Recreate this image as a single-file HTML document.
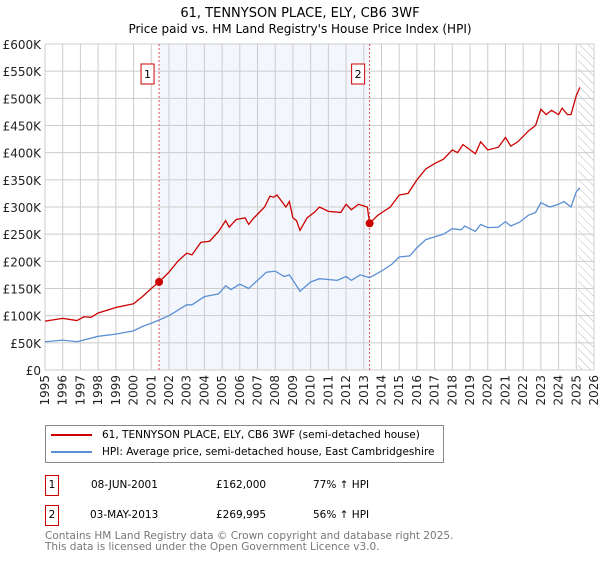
<!DOCTYPE html>
<html><head><meta charset="utf-8"><style>
body{margin:0;background:#fff;font-family:"Liberation Sans","DejaVu Sans",sans-serif;}
svg text{font-family:"DejaVu Sans","Liberation Sans",sans-serif;}
</style></head><body>
<svg id="c" width="600" height="560" xmlns="http://www.w3.org/2000/svg"></svg>
<script>
const yearTicks=[1995,1996,1997,1998,1999,2000,2001,2002,2003,2004,2005,2006,2007,2008,2009,2010,2011,2012,2013,2014,2015,2016,2017,2018,2019,2020,2021,2022,2023,2024,2025,2026];
const priceTicks=[0,50,100,150,200,250,300,350,400,450,500,550,600];
const redT=[1995,1996,1996.8,1997.2,1997.6,1998,1999,2000,2000.5,2001,2001.44,2002,2002.5,2003,2003.3,2003.8,2004.3,2004.8,2005.2,2005.4,2005.8,2006.3,2006.5,2006.8,2007.4,2007.7,2007.9,2008.1,2008.6,2008.8,2009,2009.2,2009.4,2009.8,2010.2,2010.5,2011,2011.7,2012,2012.3,2012.7,2013.2,2013.33,2013.8,2014.5,2015,2015.5,2016,2016.5,2017,2017.5,2018,2018.3,2018.6,2019.3,2019.6,2020,2020.6,2021,2021.3,2021.7,2022.3,2022.7,2023,2023.3,2023.6,2024,2024.2,2024.5,2024.7,2025,2025.2];
const redV=[90,95,91,98,97,105,115,122,135,150,162,180,200,215,212,235,237,255,275,263,277,280,268,280,300,320,318,322,300,310,280,275,257,280,290,300,292,290,305,295,305,300,270,285,300,322,325,350,370,380,388,405,400,415,398,420,405,410,428,412,420,440,450,480,470,478,470,482,470,470,505,520];
const blueT=[1995,1996,1996.8,1998,1999,2000,2000.5,2001,2001.44,2002,2003,2003.3,2004,2004.8,2005.2,2005.5,2006,2006.5,2007,2007.5,2008,2008.5,2008.8,2009.2,2009.4,2010,2010.5,2011.5,2012,2012.3,2012.8,2013.33,2014,2014.6,2015,2015.6,2016,2016.5,2017,2017.5,2018,2018.5,2018.7,2019.3,2019.6,2020,2020.6,2021,2021.3,2021.8,2022.3,2022.7,2023,2023.5,2024,2024.3,2024.7,2025,2025.2];
const blueV=[52,55,52,62,66,72,80,86,92,100,120,120,135,140,155,148,158,150,165,180,182,172,175,155,145,162,168,165,172,165,175,170,182,195,208,210,225,240,245,250,260,258,265,255,268,262,263,273,265,272,285,290,308,300,305,310,300,328,335];
const sales=[{t:2001.44,v:162,l:"1"},{t:2013.33,v:269.995,l:"2"}];
const NS="http://www.w3.org/2000/svg";
const svg=document.getElementById('c');
const X=t=>45+(t-1995)*(594-45)/31;
const Y=v=>370-v*(370-44)/600;
function el(tag,attrs,parent){const e=document.createElementNS(NS,tag);for(const k in attrs)e.setAttribute(k,attrs[k]);(parent||svg).appendChild(e);return e;}
function txt(s,attrs){const e=el('text',attrs);e.textContent=s;return e;}
let t=txt("61, TENNYSON PLACE, ELY, CB6 3WF",{x:300,y:17,'text-anchor':'middle','font-size':13});

t=txt("Price paid vs. HM Land Registry's House Price Index (HPI)",{x:300,y:33,'text-anchor':'middle','font-size':12});

let r=el('rect',{x:X(sales[0].t),y:44,width:X(sales[1].t)-X(sales[0].t),height:326,fill:'#eef3fc',opacity:0.7});

const defs=el('defs',{});const pat=el('pattern',{id:'h',width:6,height:6,patternUnits:'userSpaceOnUse',patternTransform:'rotate(-45)'},defs);
el('line',{x1:0,y1:0,x2:0,y2:6,stroke:'#bbb','stroke-width':1},pat);
r=el('rect',{x:X(2025.1),y:44,width:594-X(2025.1),height:326,fill:'url(#h)'});

priceTicks.forEach(p=>{const g=el('line',{x1:45,x2:594,y1:Y(p),y2:Y(p),stroke:'#ccc'});

const l=txt('£'+(p?p+'K':'0'),{x:41,y:Y(p)+5,'text-anchor':'end','font-size':12,fill:'#222'});
});
yearTicks.forEach(yr=>{const g=el('line',{x1:X(yr),x2:X(yr),y1:44,y2:370,stroke:'#ccc'});

const l=txt(String(yr),{x:0,y:0,'text-anchor':'end','font-size':12,fill:'#222',transform:`translate(${X(yr)+4},375) rotate(-90)`});
});
sales.forEach(s=>{const v=el('line',{x1:X(s.t),x2:X(s.t),y1:44,y2:370,stroke:'#e05050','stroke-dasharray':'2,2'});

const b=el('rect',{x:X(s.t)-18,y:64,width:13,height:20,fill:'#fff',stroke:'#cc0000'});

const l=txt(s.l,{x:X(s.t)-11.5,y:78,'text-anchor':'middle','font-size':11});
});
function line(T,V,c,name){const p=el('polyline',{points:T.map((t,i)=>X(t)+','+Y(V[i])).join(' '),fill:'none',stroke:c,'stroke-width':1.3});
}
line(blueT,blueV,'#5b8fd4','hpi-line');
line(redT,redV,'#cc0000','price-paid-line');
sales.forEach(s=>{const d=el('circle',{cx:X(s.t),cy:Y(s.v),r:4,fill:'#cc0000'});
});
</script>
<div style="position:absolute;left:45px;top:425px;width:397px;height:36px;border:1px solid #888;font-size:10.5px;font-family:'DejaVu Sans','Liberation Sans',sans-serif;">
<div style="position:absolute;left:5px;top:3px;white-space:nowrap"><span style="display:inline-block;width:41px;height:2px;background:#cc0000;vertical-align:middle;margin-right:10px"></span>61, TENNYSON PLACE, ELY, CB6 3WF (semi-detached house)</div>
<div style="position:absolute;left:5px;top:20px;white-space:nowrap"><span style="display:inline-block;width:41px;height:2px;background:#5b8fd4;vertical-align:middle;margin-right:10px"></span>HPI: Average price, semi-detached house, East Cambridgeshire</div>
</div>
<div style="font-family:'DejaVu Sans','Liberation Sans',sans-serif;font-size:10.5px;">
<div><span style="position:absolute;left:45px;top:475px;width:12px;height:19px;border:1px solid #cc0000;text-align:center;line-height:19px">1</span><span style="position:absolute;left:91px;top:479px">08-JUN-2001</span><span style="position:absolute;left:216px;top:479px">£162,000</span><span style="position:absolute;left:313px;top:479px">77% ↑ HPI</span></div>
<div><span style="position:absolute;left:45px;top:505px;width:12px;height:19px;border:1px solid #cc0000;text-align:center;line-height:19px">2</span><span style="position:absolute;left:90px;top:509px">03-MAY-2013</span><span style="position:absolute;left:216px;top:509px">£269,995</span><span style="position:absolute;left:313px;top:509px">56% ↑ HPI</span></div>
</div>
<div style="position:absolute;left:45px;top:531px;font-family:'DejaVu Sans','Liberation Sans',sans-serif;font-size:10.5px;color:#777;line-height:11px">Contains HM Land Registry data © Crown copyright and database right 2025.<br>This data is licensed under the Open Government Licence v3.0.</div>
</body></html>
